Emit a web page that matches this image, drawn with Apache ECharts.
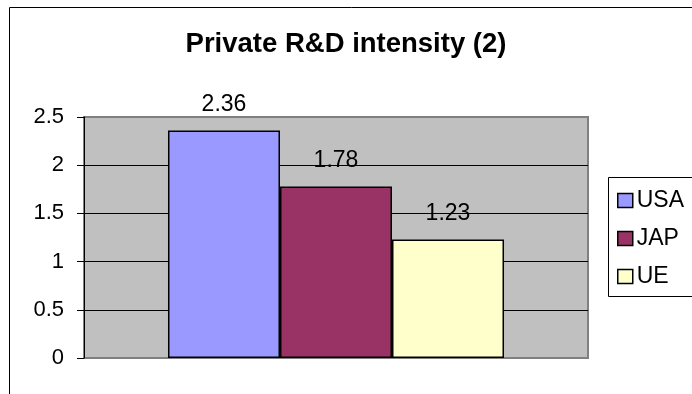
<!DOCTYPE html>
<html>
<head>
<meta charset="utf-8">
<script src="https://cdn.jsdelivr.net/npm/echarts@6/dist/echarts.min.js"></script>
<style>
  html, body { margin: 0; padding: 0; background: #fff; }
  #chart { width: 692px; height: 394px; }
</style>
</head>
<body>
<div id="chart"></div>
<script>
// Chart data
const titleText = 'Private R&D intensity (2)';
const categories = [''];
const seriesNames = ['USA', 'JAP', 'UE'];
const seriesValues = [2.36, 1.78, 1.23];
const yMin = 0, yMax = 2.5, yStep = 0.5;

// Bar fills, in series order
const palette = ['#9999FF', '#993366', '#FFFFCC'];
const FONT = '"Liberation Sans", Arial, sans-serif';

const chart = echarts.init(document.getElementById('chart'), null, { renderer: 'canvas' });

chart.setOption({
  animation: false,
  backgroundColor: '#fff',
  textStyle: { fontFamily: FONT },
  title: {
    text: titleText,
    left: 'center',
    top: 30,
    padding: 0,
    textStyle: { fontFamily: FONT, fontSize: 27.5, fontWeight: 'bold', color: '#000' }
  },
  legend: {
    orient: 'vertical',
    left: 608,
    top: 177,
    padding: [12, 10, 9, 9],
    itemGap: 15,
    itemWidth: 15,
    itemHeight: 14,
    icon: 'rect',
    borderWidth: 0,
    textStyle: { fontFamily: FONT, fontSize: 23, color: '#000', padding: [0, 0, 0, -1] },
    itemStyle: { borderColor: '#000', borderWidth: 1.5 },
    data: seriesNames
  },
  grid: {
    left: 84,
    top: 117,
    right: 104,
    bottom: 36,
    show: true,
    backgroundColor: '#C0C0C0',
    borderColor: '#808080',
    borderWidth: 2,
    containLabel: false
  },
  xAxis: {
    type: 'category',
    data: categories,
    axisLine: { show: false },
    axisTick: { show: false },
    axisLabel: { show: false },
    splitLine: { show: false }
  },
  yAxis: {
    type: 'value',
    min: yMin,
    max: yMax,
    interval: yStep,
    axisLine: { show: true, lineStyle: { color: '#000', width: 1 } },
    axisTick: { show: true, length: 7, lineStyle: { color: '#000', width: 1 } },
    axisLabel: {
      margin: 20,
      fontFamily: FONT,
      fontSize: 22,
      color: '#000'
    },
    splitLine: {
      show: true,
      showMinLine: false,
      showMaxLine: false,
      lineStyle: { color: '#000', width: 1 }
    }
  },
  series: seriesNames.map((name, i) => ({
    name: name,
    type: 'bar',
    data: [seriesValues[i]],
    barGap: '0%',
    barCategoryGap: '33.33%',
    itemStyle: { color: palette[i], borderColor: '#000', borderWidth: 1.5 },
    label: {
      show: true,
      position: 'top',
      distance: 14,
      fontFamily: FONT,
      fontSize: 23,
      color: '#000'
    }
  })),
  graphic: [
    {
      // legend frame, running off the right edge of the canvas
      type: 'rect',
      silent: true,
      z: -1,
      shape: { x: 608.5, y: 177.5, width: 140, height: 119 },
      style: { fill: '#fff', stroke: '#000', lineWidth: 1 }
    },
    {
      // chart area frame
      type: 'rect',
      silent: true,
      z: 100,
      shape: { x: 9.5, y: 7.5, width: 720, height: 420 },
      style: { fill: 'none', stroke: '#000', lineWidth: 1 }
    }
  ]
});
</script>
</body>
</html>
